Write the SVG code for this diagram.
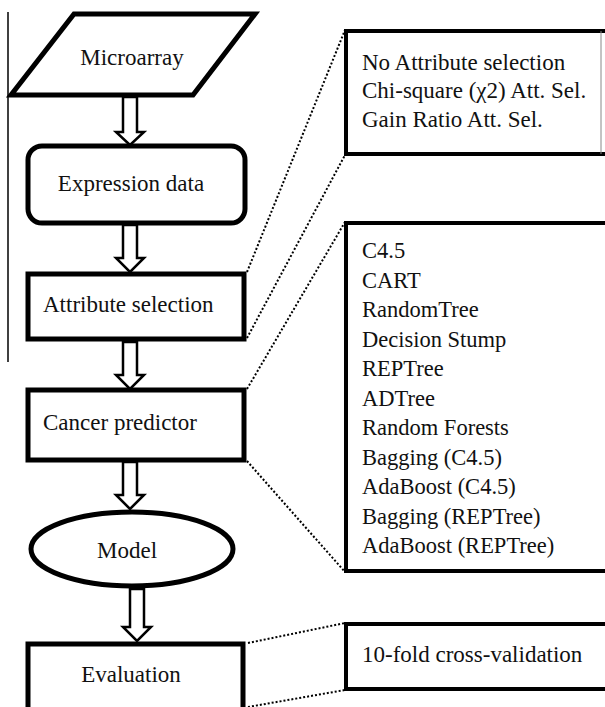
<svg xmlns="http://www.w3.org/2000/svg" width="605" height="707" viewBox="0 0 605 707">
<defs>
<style>
.node{fill:#fff;stroke:#000;stroke-width:5}
.arr{fill:#fff;stroke:#000;stroke-width:2.5;stroke-linejoin:miter}
.dot{fill:none;stroke:#000;stroke-width:2;stroke-dasharray:2 2}
.box{fill:none;stroke:#000;stroke-width:4}
text{font-family:'Liberation Serif',Tinos,'Noto Serif','DejaVu Serif',Times,'Times New Roman',serif;font-size:23px;fill:#111}
.lst{font-size:22.5px}
</style>
</defs>
<rect width="605" height="707" fill="#fff"/>
<line x1="8" y1="12" x2="8" y2="362" stroke="#000" stroke-width="1.5"/>
<g id="connectors">
<path class="arr" d="M123,97 V132 H116 L130,145 L144,132 H137 V97 Z"/>
<path class="arr" d="M123,225 V258 H116 L130,272 L144,258 H137 V225 Z"/>
<path class="arr" d="M123,342 V375 H116 L130,389 L144,375 H137 V342 Z"/>
<path class="arr" d="M123,462 V495 H116 L130,509 L144,495 H137 V462 Z"/>
<path class="arr" d="M130,589 V627 H123 L137,641 L151,627 H144 V589 Z"/>
<line class="dot" x1="247" y1="272" x2="345" y2="30"/>
<line class="dot" x1="247" y1="338" x2="345" y2="155"/>
<line class="dot" x1="247" y1="389" x2="345" y2="222"/>
<line class="dot" x1="247" y1="461" x2="345" y2="572"/>
<line class="dot" x1="248" y1="643" x2="345" y2="623"/>
<line class="dot" x1="248" y1="707" x2="345" y2="690"/>
</g>
<g id="microarray">
<polygon class="node" points="74,14 255,14 193,95 11,95"/>
<text x="132" y="65" text-anchor="middle">Microarray</text>
</g>
<g id="expression">
<rect class="node" x="28" y="146" width="217" height="77" rx="14"/>
<text x="131" y="191" text-anchor="middle">Expression data</text>
</g>
<g id="attribute">
<rect class="node" x="28" y="274" width="216" height="65"/>
<text x="43" y="312">Attribute selection</text>
</g>
<g id="cancer">
<rect class="node" x="28" y="390" width="216" height="70"/>
<text x="43" y="430">Cancer predictor</text>
</g>
<g id="model">
<ellipse class="node" cx="132" cy="549" rx="101" ry="37"/>
<text x="127" y="558" text-anchor="middle">Model</text>
</g>
<g id="evaluation">
<rect class="node" x="28" y="644" width="215" height="70"/>
<text x="131" y="682" text-anchor="middle">Evaluation</text>
</g>
<g id="attsel-options">
<path class="box" d="M607,31 H346 V154 H607"/>
<line x1="601" y1="31" x2="601" y2="154" stroke="#888" stroke-width="1"/>
<text x="362" y="70">No Attribute selection</text>
<text x="362" y="98">Chi-square (χ2) Att. Sel.</text>
<text x="362" y="127">Gain Ratio Att. Sel.</text>
</g>
<g id="predictor-options">
<path class="box" d="M607,223 H346 V571 H607"/>
<text class="lst" x="362" y="258">C4.5</text>
<text class="lst" x="362" y="287.5">CART</text>
<text class="lst" x="362" y="317">RandomTree</text>
<text class="lst" x="362" y="346.5">Decision Stump</text>
<text class="lst" x="362" y="376">REPTree</text>
<text class="lst" x="362" y="405.5">ADTree</text>
<text class="lst" x="362" y="435">Random Forests</text>
<text class="lst" x="362" y="464.5">Bagging (C4.5)</text>
<text class="lst" x="362" y="494">AdaBoost (C4.5)</text>
<text class="lst" x="362" y="523.5">Bagging (REPTree)</text>
<text class="lst" x="362" y="553">AdaBoost (REPTree)</text>
</g>
<g id="evaluation-options">
<path class="box" d="M607,624 H346 V689 H607"/>
<text x="362" y="662">10-fold cross-validation</text>
</g>
</svg>
